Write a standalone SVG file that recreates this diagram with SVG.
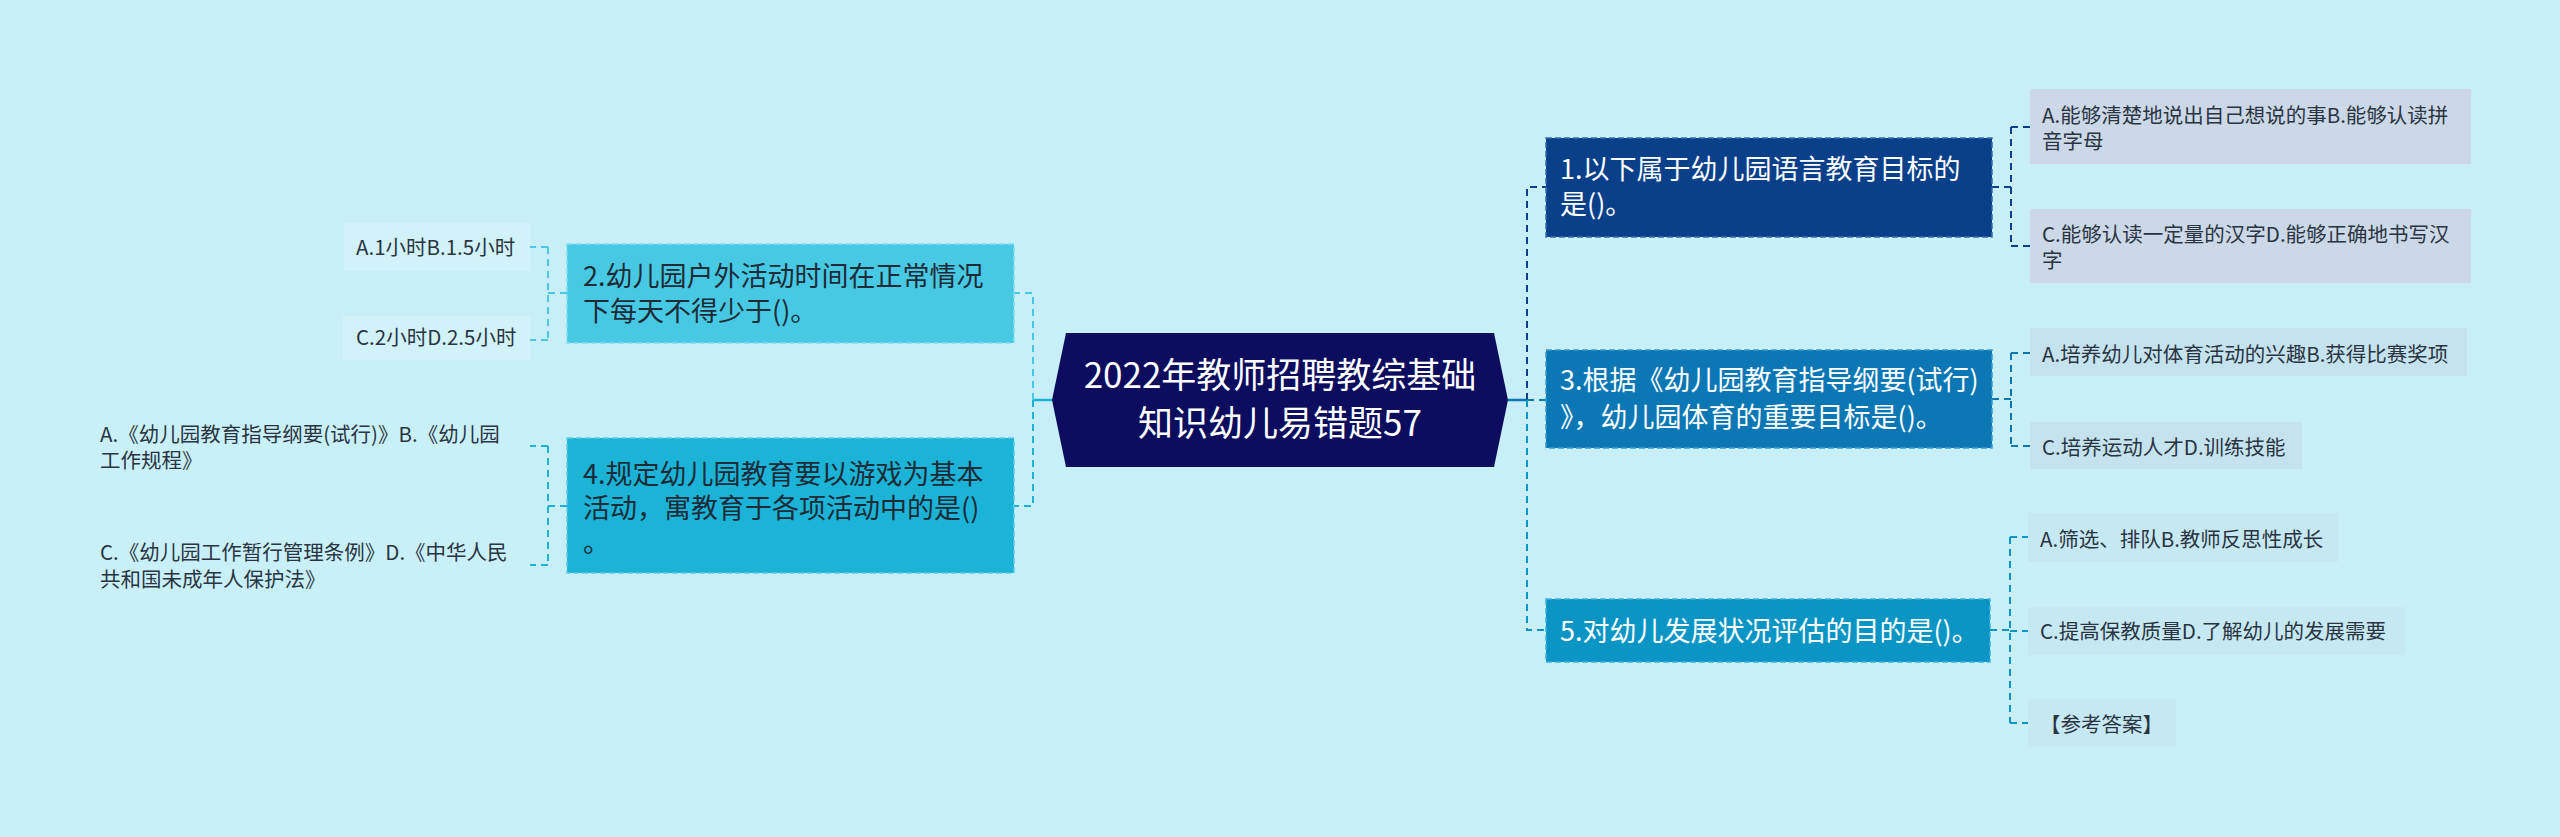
<svg xmlns="http://www.w3.org/2000/svg" width="2560" height="837" viewBox="0 0 2560 837">
<style>
  text { font-family: "Noto Sans CJK SC", "Liberation Sans", sans-serif; }
  .root { font-size: 35px; fill: #ffffff; text-anchor: middle; }
  .main { font-size: 27px; }
  .light { fill: #ffffff; }
  .dark { fill: #1e2b38; }
  .leaf { font-size: 20.5px; fill: #2a3442; }
  .dash { fill: none; stroke-width: 2; stroke-dasharray: 7 5; }
  .solid { fill: none; stroke-width: 2.5; }
  .box { stroke-width: 1.5; stroke-dasharray: 6 3; }
</style>
<rect x="0" y="0" width="2560" height="837" fill="#c8eff7"/>

<g id="connectors">
  <line class="solid" x1="1508" y1="400" x2="1527" y2="400" stroke="#0b77b4"/>
  <path class="dash" d="M1527,400 V187 H1546" stroke="#0a408a"/>
  <path class="dash" d="M1527,400 H1546" stroke="#0b77b4"/>
  <path class="dash" d="M1527,400 V630 H1546" stroke="#0b95c5"/>
  <line class="solid" x1="1052" y1="400" x2="1033" y2="400" stroke="#1bb3d6"/>
  <path class="dash" d="M1033,400 V293 H1014" stroke="#48c9e3"/>
  <path class="dash" d="M1033,400 V506 H1014" stroke="#1bb3d6"/>
  <path class="dash" d="M1992,187 H2011 M2011,127 V246 M2011,127 H2030 M2011,246 H2030" stroke="#0a408a"/>
  <path class="dash" d="M1992,399 H2011 M2011,353 V446 M2011,353 H2030 M2011,446 H2030" stroke="#0b77b4"/>
  <path class="dash" d="M1990,630 H2010 M2010,537 V723 M2010,537 H2028 M2010,631 H2028 M2010,723 H2028" stroke="#0b95c5"/>
  <path class="dash" d="M567,293 H548 M548,247 V340 M548,247 H530 M548,340 H530" stroke="#48c9e3"/>
  <path class="dash" d="M567,506 H548 M548,446 V565 M548,446 H530 M548,565 H530" stroke="#1bb3d6"/>
</g>

<g id="root">
  <polygon points="1052,400 1066,333 1494,333 1508,400 1494,467 1066,467" fill="#0c0d5e"/>
  <text class="root" x="1280" y="388">2022年教师招聘教综基础</text>
  <text class="root" x="1280" y="436">知识幼儿易错题57</text>
</g>

<g id="node1">
  <rect class="box" x="1546" y="138" width="446" height="99" fill="#0a408a" stroke="#3a6cae"/>
  <text class="main light" x="1560" y="179">1.以下属于幼儿园语言教育目标的</text>
  <text class="main light" x="1560" y="214">是()。</text>
</g>
<g id="node1a">
  <rect x="2030" y="89" width="441" height="75" fill="#ccd8e8"/>
  <text class="leaf" x="2042" y="123">A.能够清楚地说出自己想说的事B.能够认读拼</text>
  <text class="leaf" x="2042" y="149">音字母</text>
</g>
<g id="node1c">
  <rect x="2030" y="209" width="441" height="74" fill="#ccd8e8"/>
  <text class="leaf" x="2042" y="242">C.能够认读一定量的汉字D.能够正确地书写汉</text>
  <text class="leaf" x="2042" y="268">字</text>
</g>

<g id="node3">
  <rect class="box" x="1546" y="350" width="446" height="98" fill="#0b77b4" stroke="#3e9bd0"/>
  <text class="main light" x="1560" y="390">3.根据《幼儿园教育指导纲要(试行)</text>
  <text class="main light" x="1560" y="427">》，幼儿园体育的重要目标是()。</text>
</g>
<g id="node3a">
  <rect x="2030" y="328" width="437" height="48" fill="#c4e3ef"/>
  <text class="leaf" x="2042" y="362">A.培养幼儿对体育活动的兴趣B.获得比赛奖项</text>
</g>
<g id="node3c">
  <rect x="2030" y="422" width="272" height="47" fill="#c4e3ef"/>
  <text class="leaf" x="2042" y="455">C.培养运动人才D.训练技能</text>
</g>

<g id="node5">
  <rect class="box" x="1546" y="599" width="444" height="63" fill="#0b95c5" stroke="#3fb2dc"/>
  <text class="main light" x="1560" y="641">5.对幼儿发展状况评估的目的是()。</text>
</g>
<g id="node5a">
  <rect x="2028" y="513" width="310" height="49" fill="#c5e8f2"/>
  <text class="leaf" x="2040" y="547">A.筛选、排队B.教师反思性成长</text>
</g>
<g id="node5c">
  <rect x="2028" y="607" width="377" height="48" fill="#c5e8f2"/>
  <text class="leaf" x="2040" y="639">C.提高保教质量D.了解幼儿的发展需要</text>
</g>
<g id="node5d">
  <rect x="2028" y="699" width="148" height="48" fill="#c5e8f2"/>
  <text class="leaf" x="2040" y="732">【参考答案】</text>
</g>

<g id="node2">
  <rect class="box" x="567" y="244" width="447" height="99" fill="#48c9e3" stroke="#7fdcef"/>
  <text class="main dark" x="583" y="286">2.幼儿园户外活动时间在正常情况</text>
  <text class="main dark" x="583" y="321">下每天不得少于()。</text>
</g>
<g id="node2a">
  <rect x="344" y="223" width="186" height="48" fill="#d2f2f9"/>
  <text class="leaf" x="356" y="255">A.1小时B.1.5小时</text>
</g>
<g id="node2c">
  <rect x="343" y="316" width="187" height="44" fill="#d2f2f9"/>
  <text class="leaf" x="356" y="345">C.2小时D.2.5小时</text>
</g>

<g id="node4">
  <rect class="box" x="567" y="438" width="447" height="135" fill="#1bb3d6" stroke="#5ccbe6"/>
  <text class="main dark" x="583" y="484">4.规定幼儿园教育要以游戏为基本</text>
  <text class="main dark" x="583" y="518">活动，寓教育于各项活动中的是()</text>
  <text class="main dark" x="583" y="552">。</text>
</g>
<g id="node4a">
  <rect x="88" y="418" width="442" height="64" fill="#c9f0f8"/>
  <text class="leaf" x="100" y="442">A.《幼儿园教育指导纲要(试行)》B.《幼儿园</text>
  <text class="leaf" x="100" y="468">工作规程》</text>
</g>
<g id="node4c">
  <rect x="88" y="536" width="442" height="64" fill="#c9f0f8"/>
  <text class="leaf" x="100" y="560">C.《幼儿园工作暂行管理条例》D.《中华人民</text>
  <text class="leaf" x="100" y="587">共和国未成年人保护法》</text>
</g>
</svg>
